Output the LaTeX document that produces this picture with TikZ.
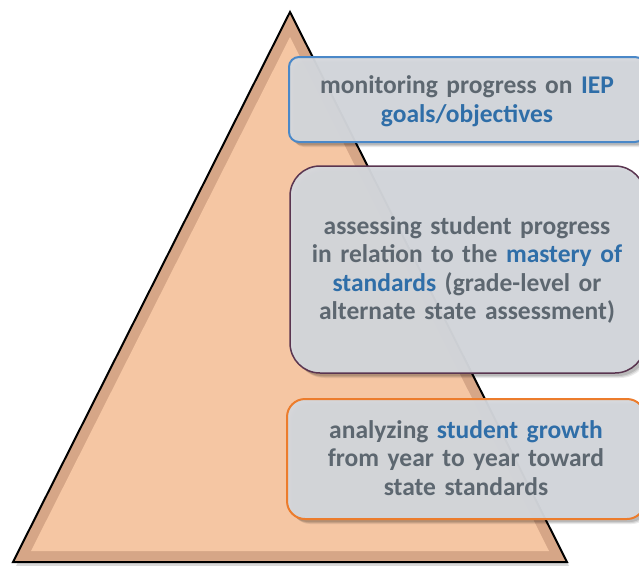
\documentclass[tikz,border=0pt]{standalone}
\usepackage{fontspec}
\setmainfont{Carlito}
\definecolor{peach}{HTML}{F5C6A3}
\definecolor{peachdark}{HTML}{D6A687}
\definecolor{boxfill}{HTML}{D4D7DC}
\definecolor{txtgray}{HTML}{5D6770}
\definecolor{txtblue}{HTML}{2F6EA8}
\definecolor{bluebord}{HTML}{4A88C8}
\definecolor{purplebord}{HTML}{5A3550}
\definecolor{orangebord}{HTML}{EC7C2C}
\tikzset{
  boxstyle/.style={draw, line width=2pt, fill=boxfill, fill opacity=0.96, text opacity=1},
  labeltext/.style={font=\bfseries\fontsize{25.5}{28.5}\selectfont, text=txtgray, align=center, text width=340pt},
}
\newcommand{\hl}[1]{\textcolor{txtblue}{#1}}
\begin{document}
\begin{tikzpicture}[x=1pt, y=-1pt]
\useasboundingbox (0,0) rectangle (639,565);
\clip (0,0) rectangle (639,565);
% triangle shadow
\fill[black, opacity=0.15] (292,15) -- (569,566) -- (16,566) -- cycle;
% triangle
\path[fill=peachdark, draw=black, line width=2pt, line join=miter] (290,12) coordinate (apex) -- (567,562) coordinate (br) -- (13,562) coordinate (bl) -- cycle;
\fill[peach] (290,37) -- (549,551) -- (31,551) -- cycle;
% box shadows
\foreach \o/\op in {5/0.08,4/0.1,3/0.12} {
  \fill[black, opacity=\op, rounded corners=10pt] (289+\o,57+\o) rectangle (645+\o,142+\o);
  \fill[black, opacity=\op, rounded corners=30pt] (290+\o,166+\o) rectangle (645+\o,373+\o);
  \fill[black, opacity=\op, rounded corners=18pt] (287+\o,399+\o) rectangle (645+\o,519+\o);
}
% boxes
\draw[boxstyle, draw=bluebord, rounded corners=10pt] (289,57) rectangle (645,142);
\draw[boxstyle, draw=purplebord, line width=1.5pt, rounded corners=30pt] (290,166) rectangle (645,373);
\draw[boxstyle, draw=orangebord, rounded corners=18pt] (287,399) rectangle (645,519);
% texts
\node[labeltext] (t1) at (467,101) {monitoring progress on \hl{IEP}\\\hl{goals/objectives}};
\node[labeltext] (t2) at (467,270) {assessing student progress\\in relation to the \hl{mastery of}\\\hl{standards} (grade-level or\\alternate state assessment)};
\node[labeltext] (t3) at (466,458) {analyzing \hl{student growth}\\from year to year toward\\state standards};
\end{tikzpicture}
\end{document}
